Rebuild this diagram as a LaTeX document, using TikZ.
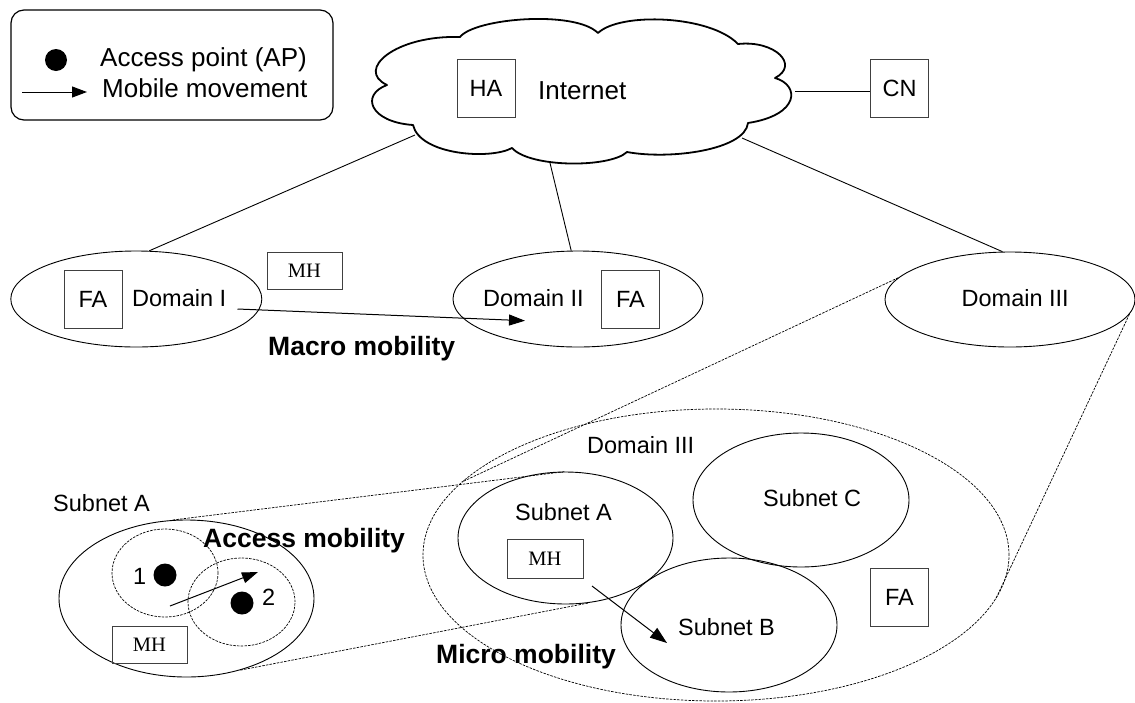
\documentclass[tikz,border=0pt]{standalone}
\usepackage{fontspec}
\setmainfont{Liberation Sans}
\newfontfamily\serifmh{Liberation Serif}
\usetikzlibrary{shapes.geometric,arrows.meta}

\tikzset{
  lbl/.style={font=\fontsize{23.5}{28}\selectfont, inner sep=0pt},
  lblbig/.style={font=\fontsize{26}{31}\selectfont, inner sep=0pt},
  lblbold/.style={font=\fontsize{26.5}{31}\selectfont\bfseries, inner sep=0pt},
  agent/.style={draw=black!75, line width=1pt, minimum width=58pt, minimum height=58pt,
    inner sep=0pt, font=\fontsize{23.5}{28}\selectfont},
  mhbox/.style={draw=black!75, line width=1pt, minimum width=75pt, minimum height=38pt,
    inner sep=0pt, font=\serifmh\fontsize{20.5}{24}\selectfont},
  region/.style={ellipse, draw, line width=0.9pt, inner sep=0pt},
  zoomline/.style={line width=0.7pt, dash pattern=on 2.5pt off 1.2pt},
  zone/.style={ellipse, draw, zoomline, inner sep=0pt},
  ap/.style={circle, fill=black, inner sep=0pt, minimum size=23pt},
  move/.style={line width=1pt, -{Triangle[length=16pt,width=11pt]}},
  cloudline/.style={line width=1.8pt, line join=round},
}

\begin{document}
\begin{tikzpicture}[x=1pt,y=-1pt]
\path[use as bounding box] (0,0) rectangle (1135,702);

% ---------- legend ----------
\draw[line width=1.2pt, rounded corners=13pt] (11,10) rectangle (333,120);
\node[ap, minimum size=22pt] (lgdot) at (56,60) {};
\node[lblbig, anchor=base west] (lgap) at (100,66) {Access point (AP)};
\coordinate (lga) at (22,92);
\coordinate (lgb) at (87,92);
\draw[move, -{Triangle[length=15pt,width=11pt]}] (lga) -- (lgb);
\node[lblbig, anchor=base west] (lgmv) at (102,97) {Mobile movement};

% ---------- Internet cloud ----------
\draw[cloudline, fill=white] (460,37)
  .. controls (475,18) and (575,10) .. (598,33)
  .. controls (620,12) and (710,15) .. (738,44)
  .. controls (775,40) and (800,65) .. (775,78)
  .. controls (800,85) and (800,115) .. (748,123)
  .. controls (745,150) and (670,160) .. (627,152)
  .. controls (610,168) and (530,168) .. (512,148)
  .. controls (490,160) and (420,155) .. (413,125)
  .. controls (370,122) and (360,95) .. (387,85)
  .. controls (355,70) and (395,35) .. (460,37) -- cycle;
\coordinate (clw) at (415,135);
\coordinate (cls) at (550,163);
\coordinate (clse) at (742,138);
\coordinate (cle) at (795,91);
\node[agent] (ha) at (486,88) {HA};
\node[lblbig, anchor=base west] (inet) at (538,99.3) {Internet};
\node[agent] (cn) at (899.5,88) {CN};
\draw[line width=1pt] (cle) -- (cle -| cn.west);

% ---------- domains ----------
\node[region, minimum width=251pt, minimum height=96pt] (d1) at (136.3,299) {};
\node[agent] (fa1) at (93,299) {FA};
\node[lbl, anchor=base west] (d1lbl) at (132,306) {Domain I};
\node[mhbox, minimum height=37pt] (mh1) at (304.5,270.5) {MH};

\node[region, minimum width=250pt, minimum height=96pt] (d2) at (578,299) {};
\node[lbl, anchor=base west] (d2lbl) at (483,306) {Domain II};
\node[agent] (fa2) at (630.5,299.5) {FA};

\node[region, minimum width=250pt, minimum height=95pt] (d3) at (1010,299.5) {};
\node[lbl, anchor=base west] (d3lbl) at (961.5,306) {Domain III};

\draw[line width=0.9pt] (clw) -- (d1.75);
\draw[line width=0.9pt] (cls) -- (d2.98);
\draw[line width=0.9pt] (clse) -- (d3.99);

% macro mobility
\coordinate (mca) at (237.5,309);
\coordinate (mcb) at (525,320.7);
\draw[move] (mca) -- (mcb);
\node[lblbold, anchor=base west] (macro) at (268,355) {Macro mobility};

% ---------- Domain III enlarged ----------
\node[zone, minimum width=586pt, minimum height=292pt] (big) at (716,555) {};
\draw[zoomline] (d3.169) -- (big.164);
\draw[zoomline] (d3.-7.5) -- (big.-9.8);
\node[lbl, anchor=base west] (biglbl) at (587,453) {Domain III};

\node[region, minimum width=215pt, minimum height=132pt] (sa) at (565.5,538) {};
\node[lbl, anchor=base west] (salbl) at (515,520) {Subnet A};
\node[mhbox, minimum width=76pt, minimum height=39pt] (mh2) at (545,558.5) {MH};

\node[region, minimum width=216pt, minimum height=134pt] (sc) at (801,500) {};
\node[lbl, anchor=base west] (sclbl) at (763,506.7) {Subnet C};

\node[region, minimum width=216pt, minimum height=134pt] (sb) at (729,625) {};
\node[lbl, anchor=base west] (sblbl) at (678,635) {Subnet B};

\node[agent] (fa3) at (899.5,597) {FA};

\coordinate (mia) at (592,586);
\coordinate (mib) at (667,643);
\draw[move, -{Triangle[length=17pt,width=12pt]}] (mia) -- (mib);
\node[lblbold, anchor=base west] (micro) at (436,663) {Micro mobility};

% ---------- Subnet A enlarged ----------
\node[region, minimum width=255pt, minimum height=157pt] (ssa) at (186.5,598.5) {};
\node[lbl, anchor=base west] (ssalbl) at (53,511.7) {Subnet A};
\draw[zoomline] (ssa.100) -- (sa.90);
\draw[zoomline] (ssa.-53) -- (sa.-70);

\node[zone, minimum width=106pt, minimum height=88pt] (cell1) at (165,573) {};
\node[zone, minimum width=107pt, minimum height=88pt] (cell2) at (241.5,602) {};
\node[ap] (ap1) at (165,575) {};
\node[ap] (ap2) at (242,603) {};
\node[lbl, anchor=base west] (n1) at (133,584) {1};
\node[lbl, anchor=base west] (n2) at (262,605) {2};
\node[mhbox, minimum height=37pt] (mh3) at (149.5,644.5) {MH};

\coordinate (aca) at (170,606);
\coordinate (acb) at (258,572);
\draw[move] (aca) -- (acb);
\node[lblbold, anchor=base west] (access) at (203,547) {Access mobility};
\end{tikzpicture}
\end{document}
